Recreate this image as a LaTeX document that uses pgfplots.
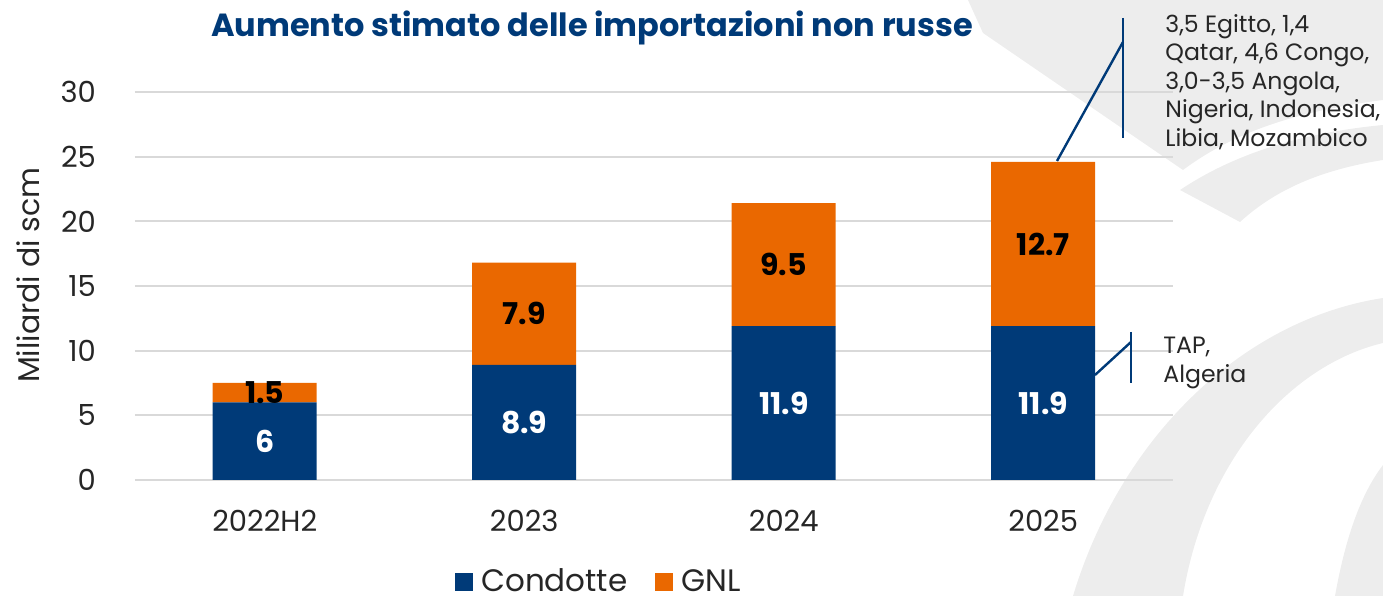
\documentclass[border=0pt]{standalone}
\usepackage{fontspec}
\setmainfont{Poppins}
\usepackage{pgfplots}
\pgfplotsset{compat=1.18}
\definecolor{cblue}{RGB}{0,58,120}
\definecolor{corange}{RGB}{234,104,0}
\definecolor{bggrey}{RGB}{237,237,237}
\definecolor{gridgrey}{RGB}{217,217,217}
\pgfplotstableread{
x cond gnl
0 6    1.5
1 8.9  7.9
2 11.9 9.5
3 11.9 12.7
}\datatab
\pgfplotstableread{
x y lab
0 3    6
1 4.45 8.9
2 5.95 11.9
3 5.95 11.9
}\labcond
\pgfplotstableread{
x y lab
0 6.75  1.5
1 12.85 7.9
2 16.65 9.5
3 18.25 12.7
}\labgnl
\begin{document}
\begin{tikzpicture}
\begin{scope}[x=0.5pt,y=-0.5pt]
\path[use as bounding box] (0,0) rectangle (1383,596);
% faint background watermark
\fill[bggrey] (968,0) -- (1383,0) -- (1383,100) .. controls (1290,112) and (1230,135) .. (1183,170) -- (983,33) -- cycle;
\fill[bggrey] (1180,190) .. controls (1240,150) and (1310,132) .. (1383,125) -- (1383,160) .. controls (1320,170) and (1275,190) .. (1240,222) -- cycle;
\fill[bggrey] (1073,596) .. controls (1120,440) and (1240,320) .. (1383,298) -- (1383,343) .. controls (1290,365) and (1205,460) .. (1183,596) -- cycle;
\fill[bggrey] (1335,596) .. controls (1345,540) and (1360,495) .. (1383,465) -- (1383,596) -- cycle;
\end{scope}

\begin{axis}[
  at={(67.5pt,-240pt)}, anchor=south west,
  scale only axis, width=519pt, height=194pt,
  xmin=-0.5, xmax=3.5, ymin=0, ymax=30,
  ybar stacked, bar width=52pt,
  xtick={0,1,2,3}, xticklabels={2022H2,2023,2024,2025},
  ytick={0,5,...,30},
  ymajorgrids, grid style={gridgrey, line width=0.9pt},
  axis line style={draw=none},
  major tick length=0pt,
  tick label style={font=\fontsize{14.5}{17}\selectfont, text=black!85},
  /pgf/number format/assume math mode=true,
  yticklabel style={xshift=-16pt},
  xticklabel style={yshift=-11.5pt},
  ylabel={Miliardi di scm},
  ylabel style={at={(axis description cs:-0.103,0.528)}, anchor=center, rotate=0, font=\fontsize{15}{18}\selectfont, text=black!85},
  legend style={at={(axis description cs:0.448,-0.262)}, anchor=center, draw=none, fill=none,
     legend columns=2, font=\fontsize{15.5}{18}\selectfont, text=black!85,
     /tikz/every even column/.append style={column sep=12pt}},
]
\addplot[fill=cblue, draw=none, legend image code/.code={\fill[cblue] (0pt,-4.5pt) rectangle (9pt,4.5pt); \path (11pt,0pt);}] table[x=x,y=cond] {\datatab};
\addplot[fill=corange, draw=none, legend image code/.code={\fill[corange] (0pt,-4.5pt) rectangle (9pt,4.5pt); \path (11pt,0pt);}] table[x=x,y=gnl] {\datatab};
\legend{Condotte,GNL}
\end{axis}

\begin{axis}[
  at={(67.5pt,-240pt)}, anchor=south west,
  scale only axis, width=519pt, height=194pt,
  xmin=-0.5, xmax=3.5, ymin=0, ymax=30, hide axis,
]
\addplot[draw=none, mark=none, nodes near coords, point meta=explicit symbolic,
  nodes near coords style={anchor=center, text=white, font=\bfseries\fontsize{15}{18}\selectfont}]
  table[x=x,y=y,meta=lab] {\labcond};
\addplot[draw=none, mark=none, nodes near coords, point meta=explicit symbolic,
  nodes near coords style={anchor=center, text=black, font=\bfseries\fontsize{15}{18}\selectfont}]
  table[x=x,y=y,meta=lab] {\labgnl};
\end{axis}

\begin{scope}[x=0.5pt,y=-0.5pt]
\node[font=\bfseries\fontsize{16}{19}\selectfont, text=cblue] at (592,28) {Aumento stimato delle importazioni non russe};
\draw[cblue, line width=1.2pt] (1123,18) -- (1123,138);
\draw[cblue, line width=1.2pt] (1057,161) -- (1123,42);
\draw[cblue, line width=1.2pt] (1131,332) -- (1131,383);
\draw[cblue, line width=1.2pt] (1095,375) -- (1131,342);
\node[anchor=north west, align=left, inner sep=0pt, font=\fontsize{11.8}{14.25}\selectfont, text=black!85] at (1165,14)
 {3,5 Egitto, 1,4\\Qatar, 4,6 Congo,\\3,0-3,5 Angola,\\Nigeria, Indonesia,\\Libia, Mozambico};
\node[anchor=north west, align=left, inner sep=0pt, font=\fontsize{11.8}{14.25}\selectfont, text=black!85] at (1163,337)
 {TAP,\\Algeria};
\end{scope}
\end{tikzpicture}
\end{document}
